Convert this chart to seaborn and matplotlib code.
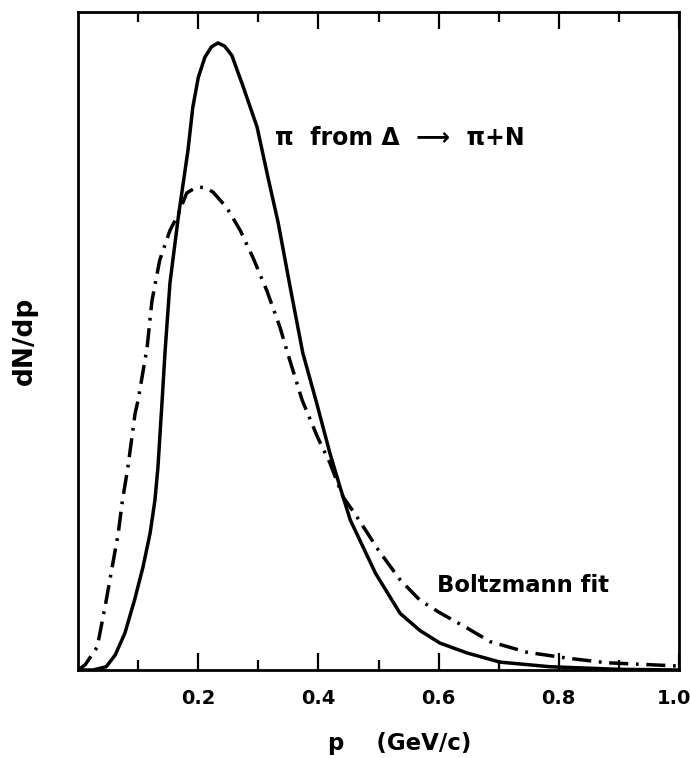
import numpy as np
import pandas as pd
import matplotlib
matplotlib.use("Agg")
import matplotlib.pyplot as plt
import matplotlib.transforms as mtransforms
import seaborn as sns

# ---- data ----
p_delta = [0.0, 0.025, 0.047, 0.062, 0.078, 0.094, 0.108, 0.120, 0.128, 0.133,
           0.140, 0.145, 0.153, 0.167, 0.183, 0.191, 0.200, 0.211, 0.222, 0.233,
           0.244, 0.256, 0.275, 0.298, 0.316, 0.333, 0.353, 0.374, 0.397, 0.419,
           0.436, 0.453, 0.495, 0.536, 0.569, 0.602, 0.647, 0.702, 0.785, 0.900,
           1.0]
dn_delta = [0.0, 0.0, 0.005, 0.023, 0.056, 0.106, 0.156, 0.208, 0.258, 0.308,
            0.410, 0.486, 0.588, 0.689, 0.790, 0.855, 0.900, 0.931, 0.947, 0.953,
            0.948, 0.934, 0.886, 0.825, 0.749, 0.680, 0.582, 0.482, 0.406, 0.330,
            0.278, 0.228, 0.147, 0.086, 0.060, 0.041, 0.026, 0.012, 0.005, 0.001,
            0.0]

p_boltz = [0.0, 0.012, 0.032, 0.045, 0.057, 0.067, 0.074, 0.083, 0.095, 0.100,
           0.115, 0.123, 0.136, 0.153, 0.166, 0.181, 0.192, 0.203, 0.214, 0.225,
           0.248, 0.270, 0.291, 0.314, 0.336, 0.350, 0.373, 0.399, 0.419, 0.441,
           0.464, 0.500, 0.536, 0.569, 0.602, 0.647, 0.686, 0.747, 0.814, 0.880,
           0.952, 1.0]
dn_boltz = [0.0, 0.008, 0.035, 0.096, 0.157, 0.208, 0.258, 0.308, 0.390, 0.410,
            0.490, 0.561, 0.623, 0.668, 0.691, 0.725, 0.731, 0.734, 0.732, 0.726,
            0.702, 0.668, 0.627, 0.577, 0.521, 0.478, 0.410, 0.353, 0.315, 0.263,
            0.233, 0.182, 0.137, 0.106, 0.087, 0.064, 0.043, 0.027, 0.018, 0.011,
            0.008, 0.006]

major_ticks = [0.2, 0.4, 0.6, 0.8, 1.0]
major_labels = ["0.2", "0.4", "0.6", "0.8", "1.0"]
minor_ticks = [0.1, 0.3, 0.5, 0.7, 0.9]

df_delta = pd.DataFrame({"p": p_delta, "dNdp": dn_delta})
df_boltz = pd.DataFrame({"p": p_boltz, "dNdp": dn_boltz})

sns.set_style("white")
plt.rcParams["font.family"] = ["DejaVu Sans"]
plt.rcParams["font.weight"] = "bold"
plt.rcParams["text.color"] = "black"
plt.rcParams["axes.labelcolor"] = "black"
plt.rcParams["xtick.color"] = "black"

fig = plt.figure(figsize=(6.9, 7.58), dpi=100)
ax = fig.add_axes([78 / 690, (758 - 670) / 758, (679 - 78) / 690, (670 - 12) / 758])

sns.lineplot(data=df_delta, x="p", y="dNdp", ax=ax, color="black", lw=2.5,
             solid_capstyle="round", solid_joinstyle="round",
             estimator=None, sort=False)
sns.lineplot(data=df_boltz, x="p", y="dNdp", ax=ax, color="black", lw=2.5,
             linestyle=(0, (5.5, 2.2, 0.8, 2.2)), dash_capstyle="butt",
             estimator=None, sort=False)

ax.set_xlim(0, 1.0)
ax.set_ylim(0, 1.0)
ax.set_yticks([])
ax.set_xticks(major_ticks)
ax.set_xticklabels(major_labels, fontsize=14, fontweight="bold")
ax.set_xticks(minor_ticks, minor=True)
ax.tick_params(axis="x", which="major", direction="in", length=12, width=1.6,
               top=True, bottom=True, pad=14, color="black", labelcolor="black")
ax.tick_params(axis="x", which="minor", direction="in", length=7, width=1.6,
               top=True, bottom=True, color="black")

# nudge the last tick label slightly left so it stays inside the figure
last = ax.get_xticklabels()[-1]
last.set_transform(last.get_transform() +
                   mtransforms.ScaledTranslation(-5 / 100, 0, fig.dpi_scale_trans))

for s in ax.spines.values():
    s.set_visible(True)
    s.set_linewidth(2.0)
    s.set_color("black")

ax.set_xlabel("p    (GeV/c)", fontsize=16.5, fontweight="bold")
ax.xaxis.set_label_coords(0.535, -0.094)
ax.set_ylabel("dN/dp", fontsize=19, fontweight="bold")
ax.yaxis.set_label_coords(-0.066, 0.5)

ax.text(0.328, 0.808, "\u03c0  from \u0394  \u27f6  \u03c0+N", fontsize=17,
        fontweight="bold", va="center", ha="left")
ax.text(0.597, 0.129, "Boltzmann fit", fontsize=16.3, fontweight="bold",
        va="center", ha="left")

fig.savefig("out.png", dpi=100)
